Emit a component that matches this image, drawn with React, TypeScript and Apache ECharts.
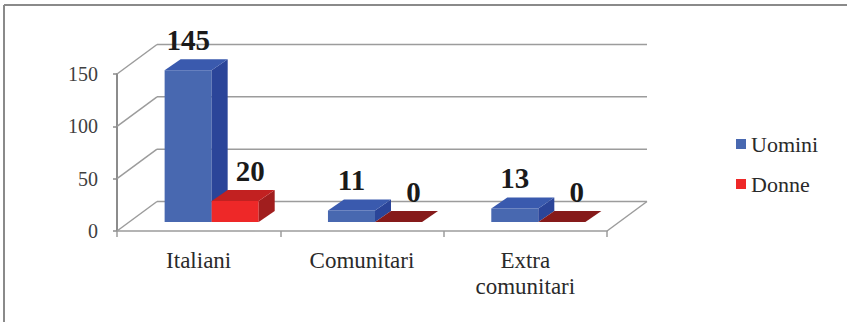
import React, { useEffect, useRef } from "react";
import * as echarts from "echarts";

const categories = ["Italiani", "Comunitari", "Extra comunitari"];
const uomini = [145, 11, 13];
const donne = [20, 0, 0];
const yTicks = [0, 50, 100, 150];

const FONT = "'Times New Roman', 'Liberation Serif', Tinos, 'DejaVu Serif', serif";

// depth of the floor and back wall
const WALL_DX = 40;
const WALL_DY = -29.5;
// where the bars sit inside that depth, and their own depth
const BAR_FX = 13;
const BAR_FY = -9;
const BAR_DX = 16;
const BAR_DY = -11;
const BAR_RATIO = 0.288;

const GRID_COLOR = "#9c9c9c";

type Palette = { front: string; side: string; top: string; flat: string };
const BLUE: Palette = { front: "#4868b0", side: "#2b4599", top: "#3a5aae", flat: "#3a5aae" };
const RED: Palette = { front: "#ee2828", side: "#a11e1e", top: "#c22121", flat: "#861a1a" };

function barSeries(name: string, values: number[], slot: number, pal: Palette, labelDx: number) {
  return {
    type: "custom",
    name,
    clip: false,
    z: 3,
    itemStyle: { color: pal.front },
    data: values.map((v, i) => [i, v]),
    renderItem: (_params: any, api: any) => {
      const i = api.value(0);
      const v = api.value(1);
      const base = api.coord([i, 0]);
      const top = api.coord([i, v]);
      const band = api.size([1, 0])[0];
      const w = band * BAR_RATIO;
      const x0 = base[0] + BAR_FX - w + slot * w;
      const x1 = x0 + w;
      const yb = base[1] + BAR_FY;
      const yt = top[1] + BAR_FY;
      const children: any[] = [];
      if (v > 0) {
        children.push({
          type: "rect",
          shape: { x: x0, y: yt, width: w, height: yb - yt },
          style: { fill: pal.front },
        });
        children.push({
          type: "polygon",
          shape: {
            points: [
              [x1, yb],
              [x1 + BAR_DX, yb + BAR_DY],
              [x1 + BAR_DX, yt + BAR_DY],
              [x1, yt],
            ],
          },
          style: { fill: pal.side },
        });
      }
      children.push({
        type: "polygon",
        shape: {
          points: [
            [x0, yt],
            [x0 + BAR_DX, yt + BAR_DY],
            [x1 + BAR_DX, yt + BAR_DY],
            [x1, yt],
          ],
        },
        style: { fill: v > 0 ? pal.top : pal.flat },
      });
      children.push({
        type: "text",
        x: (x0 + x1) / 2 + labelDx,
        y: yt - 16,
        style: {
          text: String(v),
          fontSize: 29,
          fontWeight: "bold",
          fontFamily: FONT,
          fill: "#1a1a1a",
          align: "center",
          verticalAlign: "bottom",
        },
      });
      return { type: "group", children };
    },
  };
}

// side wall, back wall and floor lines, one set per y tick
const wallSeries = {
  type: "custom",
  silent: true,
  clip: false,
  z: 1,
  data: yTicks.map((t) => [0, t]),
  renderItem: (_params: any, api: any) => {
    const t = api.value(1);
    const p = api.coord([0, t]);
    const band = api.size([1, 0])[0];
    const xl = p[0] - band / 2;
    const xr = xl + band * categories.length;
    const y = p[1];
    const lineStyle = { stroke: GRID_COLOR, lineWidth: 1.5 };
    const children: any[] = [
      { type: "line", shape: { x1: xl, y1: y, x2: xl + WALL_DX, y2: y + WALL_DY }, style: lineStyle },
      {
        type: "line",
        shape: { x1: xl + WALL_DX, y1: y + WALL_DY, x2: xr + WALL_DX, y2: y + WALL_DY },
        style: lineStyle,
      },
    ];
    if (t === 0) {
      children.push({
        type: "line",
        shape: { x1: xr, y1: y, x2: xr + WALL_DX, y2: y + WALL_DY },
        style: lineStyle,
      });
    }
    return { type: "group", children };
  },
};

export default function App() {
  const ref = useRef<HTMLDivElement>(null);

  useEffect(() => {
    if (!ref.current) return;
    const chart = echarts.init(ref.current, undefined, { renderer: "svg" });
    chart.setOption({
      animation: false,
      backgroundColor: "#ffffff",
      textStyle: { fontFamily: FONT },
      grid: {
        left: 117,
        right: 240,
        top: 74,
        bottom: 91,
        containLabel: false,
        outerBoundsMode: "none",
      },
      legend: {
        orient: "vertical",
        left: 736,
        top: 133,
        padding: 0,
        icon: "rect",
        itemWidth: 10,
        itemHeight: 10,
        itemGap: 18,
        data: ["Uomini", "Donne"],
        textStyle: { fontFamily: FONT, fontSize: 22, color: "#2a2a2a" },
      },
      xAxis: {
        type: "category",
        data: categories,
        axisLine: { lineStyle: { color: GRID_COLOR, width: 1.5 } },
        axisTick: { show: true, length: 6, lineStyle: { color: GRID_COLOR, width: 1.5 } },
        axisLabel: {
          interval: 0,
          margin: 16,
          fontFamily: FONT,
          fontSize: 23,
          lineHeight: 26,
          color: "#2a2a2a",
          formatter: (v: string) => v.replace(" ", "\n"),
        },
        splitLine: { show: false },
      },
      yAxis: {
        type: "value",
        min: 0,
        max: 150,
        interval: 50,
        axisLine: { show: true, lineStyle: { color: "#8c8c8c", width: 2 } },
        axisTick: { show: true, length: 4, lineStyle: { color: "#8c8c8c", width: 1.5 } },
        axisLabel: { margin: 19, fontFamily: FONT, fontSize: 20, color: "#404040" },
        splitLine: { show: false },
      },
      graphic: [
        {
          type: "line",
          shape: { x1: 4, y1: 5, x2: 847, y2: 5 },
          style: { stroke: "#8a8a8a", lineWidth: 2 },
        },
        {
          type: "line",
          shape: { x1: 4, y1: 5, x2: 4, y2: 322 },
          style: { stroke: "#8a8a8a", lineWidth: 2 },
        },
      ],
      series: [
        wallSeries,
        barSeries("Uomini", uomini, 0, BLUE, 0),
        barSeries("Donne", donne, 1, RED, 15),
      ],
    });
    return () => chart.dispose();
  }, []);

  return (
    <div
      ref={ref}
      style={{ position: "absolute", left: 0, top: 0, width: 847, height: 322, background: "#fff" }}
    />
  );
}
